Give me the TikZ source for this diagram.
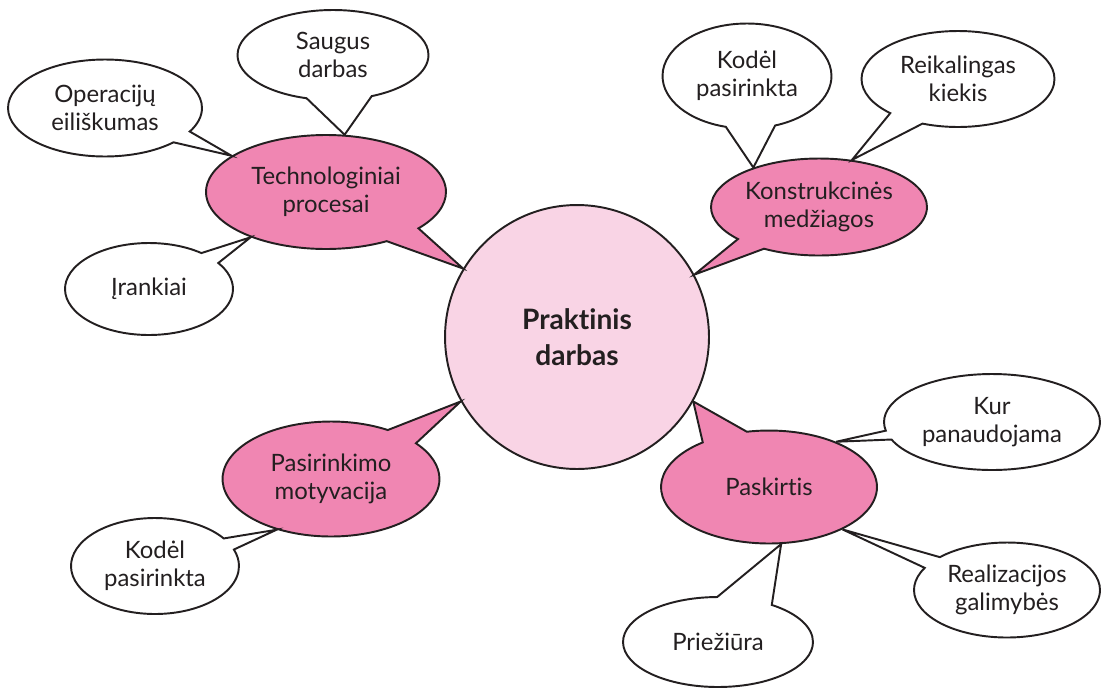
\documentclass[tikz,border=0pt]{standalone}
\usepackage{fontspec}
\setmainfont{Lato}[Ligatures={NoCommon,NoDiscretionary}]
\usetikzlibrary{shapes,shapes.geometric,shapes.callouts}
\definecolor{inkgray}{RGB}{35,31,32}
\definecolor{topicpink}{RGB}{240,134,178}
\definecolor{centrepink}{RGB}{249,212,229}

\begin{document}
\begin{tikzpicture}
[x=0.02cm,y=-0.02cm,line width=1.1pt,
every node/.style={draw=inkgray,text=inkgray,align=center,inner sep=0pt,
	font=\fontsize{13.6}{16}\selectfont},
centre/.style={circle,fill=centrepink,minimum size=5.28cm,
	font=\bfseries\fontsize{16}{20.5}\selectfont},
topic/.style={ellipse callout,fill=topicpink,callout pointer arc=20},
idea/.style={ellipse callout,fill=white,callout pointer arc=20}]

\useasboundingbox (0,0) rectangle (1101,690);

\node[centre] (praktinis) at (577,337) {Praktinis\\darbas};

% pink bubbles pointing to the centre
\node[topic,minimum width=4.8cm,minimum height=2.28cm,
	callout absolute pointer={(praktinis.149)}] (techn) at (326,192) {Technologiniai\\procesai};
\node[topic,minimum width=4.32cm,minimum height=1.94cm,callout pointer arc=18,
	callout absolute pointer={(praktinis.28)}] (konstr) at (819,207) {Konstrukcinės\\medžiagos};
\node[topic,minimum width=4.34cm,minimum height=2.3cm,
	callout absolute pointer={(praktinis.209)}] (motyv) at (331,479) {Pasirinkimo\\motyvacija};
\node[topic,minimum width=4.32cm,minimum height=2.26cm,callout pointer arc=26,
	callout absolute pointer={(praktinis.-29)}] (paskirtis) at (769,487) {Paskirtis};

% white bubbles
\node[idea,minimum width=3.82cm,minimum height=1.8cm,callout pointer arc=40,
	callout absolute pointer={(techn.72)}] (saugus) at (333,55) {Saugus\\darbas};
\node[idea,minimum width=3.88cm,minimum height=1.94cm,callout pointer arc=16,
	callout absolute pointer={(techn.159)}] (operac) at (105,108) {Operacijų\\eiliškumas};
\node[idea,minimum width=3.36cm,minimum height=1.84cm,callout pointer arc=17,
	callout absolute pointer={(techn.211)}] (irankiai) at (149,289) {Įrankiai};

\node[idea,minimum width=3.38cm,minimum height=2.1cm,callout pointer arc=34,
	callout absolute pointer={(konstr.149)}] (kodel1) at (747,76) {Kodėl\\pasirinkta};
\node[idea,minimum width=3.86cm,minimum height=1.92cm,callout pointer arc=23,
	callout absolute pointer={(konstr.55)}] (kiekis) at (958,79) {Reikalingas\\kiekis};

\node[idea,minimum width=3.36cm,minimum height=1.92cm,callout pointer arc=15,
	callout absolute pointer={(motyv.223)}] (kodel2) at (155,566) {Kodėl\\pasirinkta};

\node[idea,minimum width=4.32cm,minimum height=1.92cm,callout pointer arc=11,
	callout absolute pointer={(paskirtis.34)}] (kur) at (992,422) {Kur\\panaudojama};
\node[idea,minimum width=3.72cm,minimum height=1.9cm,callout pointer arc=16,
	callout absolute pointer={(paskirtis.-30)}] (realiz) at (1007,590) {Realizacijos\\galimybės};
\node[idea,minimum width=3.8cm,minimum height=1.8cm,callout pointer arc=35,
	callout absolute pointer={(paskirtis.-78)}] (prieziura) at (718,642) {Priežiūra};
\end{tikzpicture}
\end{document}
